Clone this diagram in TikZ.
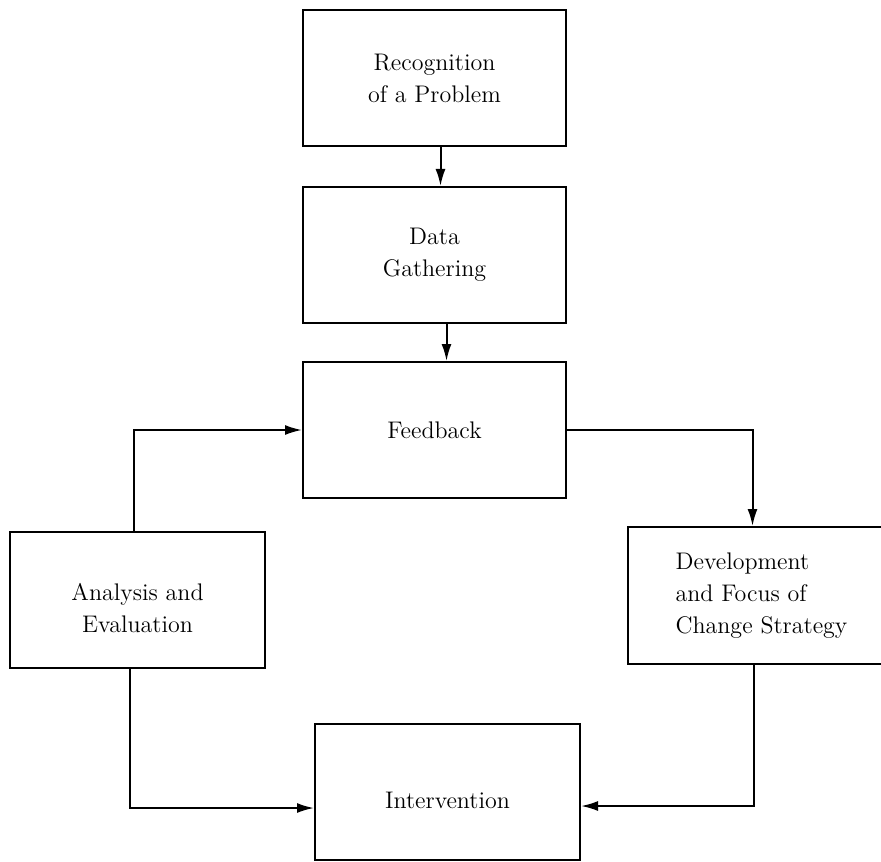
\documentclass[tikz,border=0pt]{standalone}
\usepackage{fontspec}
\usepackage{tikz}
\usetikzlibrary{positioning, arrows.meta}
\tikzset{>=latex}

\begin{document}
\begin{tikzpicture}[x=0.5pt,y=-0.5pt, every node/.append style={draw,line width=1pt,minimum width=131.5pt,minimum height=68pt,align=center,font=\fontsize{12}{16}\selectfont\addfontfeatures{LetterSpace=3}}, X/.tip={Latex[length=8.5pt,width=5pt]}]
    \path[use as bounding box,clip] (0,0) rectangle (881,861);
    \node (recog) at (434.5,78) {Recognition\\of a Problem};
    \node[below= 19.5pt of recog] (data) {Data\\Gathering};
    \node[below= 18.5pt of data] (feed) {Feedback};
    \node[minimum width=127.5pt] (anal) at (137.5,599.5) {\rule{0pt}{17pt}Analysis and\\Evaluation};
    \node[align=left,minimum width=133.5pt,minimum height=68.5pt] (devel) at (761.5,595.5) {Development\\and Focus of\\Change Strategy};
    \node[minimum width=132.5pt,text height=16.5pt,text depth=0pt] (interv) at (447.5,792) {Intervention};
    \draw[-X,line width=1pt] ([xshift=3pt]recog.south) -- ([xshift=3pt]data.north);
    \draw[-X,line width=1pt] ([xshift=6pt]data.south) -- ([xshift=6pt]feed.north);
    \draw[-X,line width=1pt] ([xshift=-2pt]anal.north) |- (feed.west);
    \draw[-X,line width=1pt] (feed.east) -| ([xshift=-4.5pt]devel.north);
    \draw[-X,line width=1pt] ([xshift=-4pt]anal.south) |- ([yshift=-8pt]interv.west);
    \draw[-X,line width=1pt] ([xshift=-4pt]devel.south) |- ([yshift=-7pt]interv.east);
\end{tikzpicture}
\end{document}
